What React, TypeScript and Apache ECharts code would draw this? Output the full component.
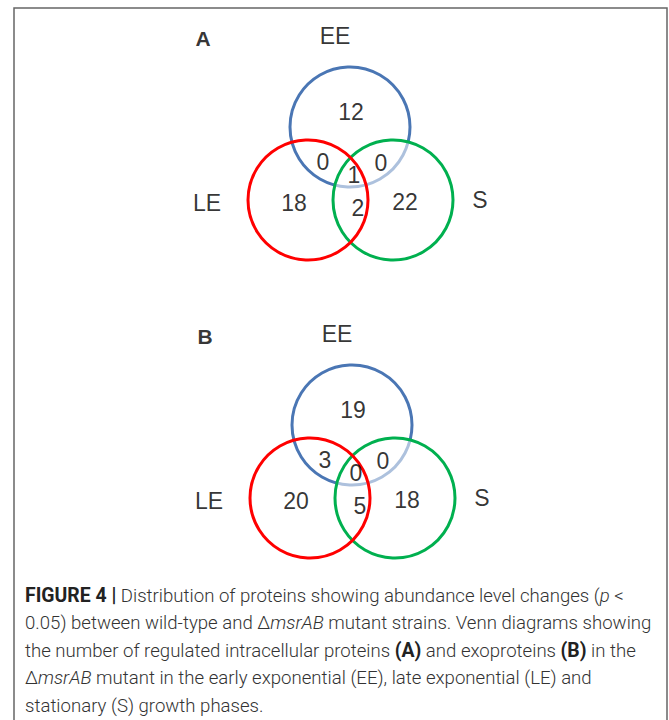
import React, { useEffect, useRef } from "react";
import * as echarts from "echarts";

// ---- data ----
const setNames = ["EE", "LE", "S"];
const setColors = ["#4a76b4", "#ff0000", "#00b04f"];
const panelNames = ["A", "B"];
// regions: EE only, EE∩LE, EE∩S, EE∩LE∩S, LE only, LE∩S, S only
const regionKeys = ["EE", "EE∩LE", "EE∩S", "EE∩LE∩S", "LE", "LE∩S", "S"];
const countsA = [12, 0, 0, 1, 18, 2, 22];
const countsB = [19, 3, 0, 0, 20, 5, 18];
const panelCounts = [countsA, countsB];

// ---- layout (data space = pixel space) ----
const panelCenters = [
  [350, 127],
  [352, 425],
];
const circleOffsets = [
  [0, 0],
  [-42, 73],
  [43, 73],
];
const circleRadius = 60;
const regionOffsets = [
  [1, -15],
  [-27, 35],
  [31, 36],
  [4, 48],
  [-56, 76],
  [8, 81],
  [55, 75],
];
const setLabelOffsets = [
  [-15, -91],
  [-143, 76],
  [130, 73],
];
const panelLetterOffset = [-147, -89];

const captionLines = [
  "{b|FIGURE 4 |} Distribution of proteins showing abundance level changes ({i|p} <",
  "0.05) between wild-type and Δ{i|msrAB} mutant strains. Venn diagrams showing",
  "the number of regulated intracellular proteins {b|(A)} and exoproteins {b|(B)} in the",
  "Δ{i|msrAB} mutant in the early exponential (EE), late exponential (LE) and",
  "stationary (S) growth phases.",
];

export default function App() {
  const ref = useRef<HTMLDivElement>(null);
  useEffect(() => {
    if (!ref.current) return;
    const chart = echarts.init(ref.current, undefined, { renderer: "svg" });

    // circles: draw order EE, S, LE (S has translucent white fill)
    const circleOrder = [0, 2, 1];
    const circleData: any[] = [];
    panelCenters.forEach((pc) => {
      circleOrder.forEach((si) => {
        circleData.push([
          pc[0] + circleOffsets[si][0],
          pc[1] + circleOffsets[si][1],
          circleRadius,
          si,
        ]);
      });
    });

    const countData: any[] = [];
    panelCenters.forEach((pc, p) => {
      panelCounts[p].forEach((v, i) => {
        countData.push({
          name: regionKeys[i],
          value: [pc[0] + regionOffsets[i][0], pc[1] + regionOffsets[i][1], v],
        });
      });
    });

    const setLabelData: any[] = [];
    panelCenters.forEach((pc) => {
      setNames.forEach((n, i) => {
        setLabelData.push({
          name: n,
          value: [pc[0] + setLabelOffsets[i][0], pc[1] + setLabelOffsets[i][1]],
        });
      });
    });

    const panelLetterData = panelCenters.map((pc, p) => ({
      name: panelNames[p],
      value: [pc[0] + panelLetterOffset[0], pc[1] + panelLetterOffset[1]],
    }));

    const capFont = "Roboto";
    const capSize = 18.6;
    const captionGraphics = captionLines.map((line, i) => ({
      type: "text",
      left: 25,
      top: 586 + i * 27.6,
      style: {
        text: line,
        fill: "#333",
        fontSize: capSize,
        fontFamily: capFont,
        fontWeight: 300,
        rich: {
          b: { fontSize: 19.4, fontFamily: capFont, fontWeight: "bold", fill: "#222" },
          i: { fontSize: capSize, fontFamily: capFont, fontWeight: 300, fontStyle: "italic", fill: "#333" },
        },
      },
    }));

    chart.setOption({
      animation: false,
      backgroundColor: "#ffffff",
      grid: { left: 0, right: 0, top: 0, bottom: 0 },
      xAxis: { type: "value", min: 0, max: 669, show: false },
      yAxis: { type: "value", min: 0, max: 720, inverse: true, show: false },
      graphic: [
        {
          type: "polyline",
          shape: {
            points: [
              [14, 720],
              [14, 8],
              [667, 8],
              [667, 720],
            ],
          },
          style: { stroke: "#666", lineWidth: 1.5, fill: "none" },
        },
        ...captionGraphics,
      ],
      series: [
        {
          type: "custom",
          z: 2,
          data: circleData,
          renderItem: (params: any, api: any) => {
            const c = api.coord([api.value(0), api.value(1)]);
            const r = api.size([api.value(2), 0])[0];
            const si = api.value(3);
            return {
              type: "circle",
              shape: { cx: c[0], cy: c[1], r },
              style: {
                fill: si === 2 ? "rgba(255,255,255,0.55)" : "none",
                stroke: setColors[si],
                lineWidth: 3,
              },
            };
          },
        },
        {
          type: "scatter",
          z: 5,
          symbolSize: 0,
          data: countData,
          label: {
            show: true,
            position: "inside",
            formatter: (p: any) => String(p.value[2]),
            fontSize: 23,
            fontFamily: "Liberation Sans, Arial, sans-serif",
            color: "#000",
          },
        },
        {
          type: "scatter",
          z: 5,
          symbolSize: 0,
          data: setLabelData,
          label: {
            show: true,
            position: "inside",
            formatter: (p: any) => p.name,
            fontSize: 23,
            fontFamily: "Liberation Sans, Arial, sans-serif",
            color: "#000",
          },
        },
        {
          type: "scatter",
          z: 5,
          symbolSize: 0,
          data: panelLetterData,
          label: {
            show: true,
            position: "inside",
            formatter: (p: any) => p.name,
            fontSize: 21,
            fontWeight: "bold",
            fontFamily: "Liberation Sans, Arial, sans-serif",
            color: "#000",
          },
        },
      ],
    });
    return () => chart.dispose();
  }, []);
  return (
    <div
      ref={ref}
      style={{ position: "fixed", left: 0, top: 0, width: 669, height: 720 }}
    />
  );
}
